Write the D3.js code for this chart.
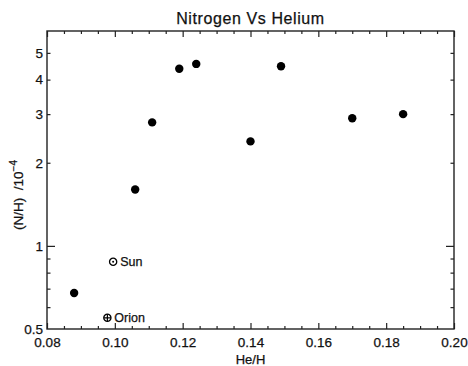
<!DOCTYPE html>
<html>
<head>
<meta charset="utf-8">
<script src="https://cdn.jsdelivr.net/npm/d3@7"></script>
<style>
  body { margin: 0; background: #fff; }
  svg text { font-family: "Liberation Sans", Arial, sans-serif; fill: #111; stroke: #111; stroke-width: 0.25px; }
</style>
</head>
<body>
<div id="chart"></div>
<script>
// nebula samples: He/H versus N/H (units of 1e-4)
var heH = [0.088, 0.106, 0.111, 0.119, 0.124, 0.140, 0.149, 0.170, 0.185];
var nH  = [0.675, 1.60, 2.80, 4.38, 4.56, 2.39, 4.47, 2.90, 3.00];

// reference objects
var refNames = ["Sun", "Orion"];
var refHeH   = [0.0995, 0.0978];
var refNH    = [0.876, 0.549];

var xMajor = [0.08, 0.10, 0.12, 0.14, 0.16, 0.18, 0.20];
var xMinor = d3.range(0.085, 0.2, 0.005).filter(function(v) { return Math.abs(v * 50 - Math.round(v * 50)) > 1e-6; });
var yLabels = [0.5, 1, 2, 3, 4, 5];
var yMinor = [0.6, 0.7, 0.8, 0.9, 2, 3, 4, 5];

var W = 468, H = 366;
var margin = {top: 31, right: 14, bottom: 37, left: 47};
var width = W - margin.left - margin.right,
    height = H - margin.top - margin.bottom;

var svg = d3.select("#chart").append("svg")
    .attr("width", W)
    .attr("height", H);

var g = svg.append("g")
    .attr("transform", "translate(" + margin.left + "," + margin.top + ")");

var x = d3.scaleLinear().domain([0.08, 0.20]).range([0, width]);
var y = d3.scaleLog().domain([0.5, 6]).range([height, 0]);

function styleAxis(sel) {
  sel.select(".domain").remove();
  sel.selectAll("line").attr("stroke", "#222").attr("stroke-width", 1.2);
  sel.selectAll("text").style("font-size", "13.5px");
}

// bottom / top ticks
g.append("g").attr("transform", "translate(0," + height + ")")
  .call(d3.axisBottom(x).tickValues(xMajor).tickFormat(d3.format(".2f"))
        .tickSizeInner(-6).tickSizeOuter(0).tickPadding(8))
  .call(styleAxis);
g.append("g").attr("transform", "translate(0," + height + ")")
  .call(d3.axisBottom(x).tickValues(xMinor).tickFormat("").tickSizeInner(-3).tickSizeOuter(0))
  .call(styleAxis);
g.append("g")
  .call(d3.axisTop(x).tickValues(xMajor).tickFormat("").tickSizeInner(-6).tickSizeOuter(0))
  .call(styleAxis);
g.append("g")
  .call(d3.axisTop(x).tickValues(xMinor).tickFormat("").tickSizeInner(-3).tickSizeOuter(0))
  .call(styleAxis);

// left / right ticks
g.append("g")
  .call(d3.axisLeft(y).tickValues(yLabels).tickFormat(function(d) { return d; })
        .tickSizeInner(0).tickSizeOuter(0).tickPadding(4))
  .call(styleAxis);
g.append("g")
  .call(d3.axisLeft(y).tickValues([1]).tickFormat("").tickSizeInner(-8).tickSizeOuter(0))
  .call(styleAxis);
g.append("g")
  .call(d3.axisLeft(y).tickValues(yMinor).tickFormat("").tickSizeInner(-3.5).tickSizeOuter(0))
  .call(styleAxis);
g.append("g").attr("transform", "translate(" + width + ",0)")
  .call(d3.axisRight(y).tickValues([1]).tickFormat("").tickSizeInner(-8).tickSizeOuter(0))
  .call(styleAxis);
g.append("g").attr("transform", "translate(" + width + ",0)")
  .call(d3.axisRight(y).tickValues(yMinor).tickFormat("").tickSizeInner(-3.5).tickSizeOuter(0))
  .call(styleAxis);

// frame
g.append("rect")
  .attr("width", width).attr("height", height)
  .attr("fill", "none").attr("stroke", "#222").attr("stroke-width", 1.4);

// data points
g.selectAll("circle.pt")
  .data(heH.map(function(d, i) { return {x: d, y: nH[i]}; }))
  .enter().append("circle")
  .attr("class", "pt")
  .attr("cx", function(d) { return x(d.x); })
  .attr("cy", function(d) { return y(d.y); })
  .attr("r", 4.2)
  .attr("fill", "#000");

// Sun and Orion markers
var refs = g.selectAll("g.ref")
  .data(refNames.map(function(n, i) { return {name: n, x: refHeH[i], y: refNH[i]}; }))
  .enter().append("g")
  .attr("class", "ref")
  .attr("transform", function(d) { return "translate(" + x(d.x) + "," + y(d.y) + ")"; });

refs.append("circle").attr("r", 3.6).attr("fill", "none").attr("stroke", "#000").attr("stroke-width", 1.3);
refs.filter(function(d) { return d.name === "Sun"; })
  .append("circle").attr("r", 1).attr("fill", "#000");
refs.filter(function(d) { return d.name === "Orion"; })
  .append("path").attr("d", "M-3.6,0H3.6M0,-3.6V3.6").attr("stroke", "#000").attr("stroke-width", 1.2);
refs.append("text")
  .attr("x", 7).attr("dy", "0.35em")
  .style("font-size", "12.5px")
  .text(function(d) { return d.name; });

// titles
svg.append("text")
  .attr("x", margin.left + width / 2).attr("y", 24)
  .attr("text-anchor", "middle")
  .style("font-size", "16px").style("letter-spacing", "0.6px")
  .text("Nitrogen Vs Helium");

svg.append("text")
  .attr("x", margin.left + width / 2).attr("y", 364)
  .attr("text-anchor", "middle")
  .style("font-size", "13px")
  .text("He/H");

var yt = svg.append("text")
  .attr("transform", "translate(23,195) rotate(-90)")
  .attr("text-anchor", "middle")
  .style("font-size", "13.5px");
yt.append("tspan").text("(N/H)  /10").attr("xml:space", "preserve").style("white-space", "pre");
yt.append("tspan").attr("dy", -6).style("font-size", "10px").text("\u22124");
</script>
</body>
</html>
